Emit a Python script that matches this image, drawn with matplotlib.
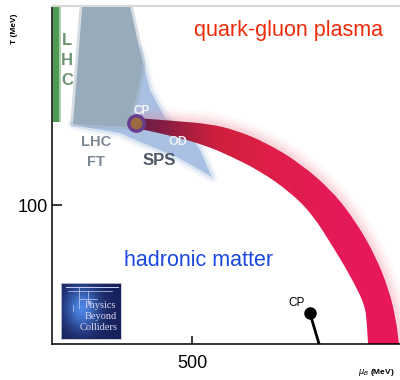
import numpy as np
import matplotlib
matplotlib.use("Agg")
import matplotlib.pyplot as plt
from matplotlib.path import Path
from matplotlib.patches import PathPatch, Polygon, Rectangle, Circle
from matplotlib.colors import LinearSegmentedColormap

plt.rcParams['font.family'] = ['Liberation Sans', 'DejaVu Sans']

# ---------------- data (mu_B in MeV, T in MeV) ----------------
band_outer_mu = [300, 446, 564, 654, 761, 886, 1004, 1086, 1154, 1204, 1229, 1239]
band_outer_T = [162.6, 160.4, 158.3, 154.0, 145.3, 130.2, 109.4, 87.8, 64.0, 38.8, 17.3, 0]
band_inner_mu = [300, 446, 554, 636, 743, 850, 929, 1004, 1064, 1118, 1125, 1129]
band_inner_T = [155.4, 148.9, 142.4, 135.3, 124.5, 109.4, 93.5, 69.8, 49.6, 28.1, 13.7, 0]

crossover_mu = [314, 350, 404, 493, 529, 571, 529, 446, 325, 243, 136, 75, 271, 304]
crossover_T = [211.5, 182.7, 162.6, 150.4, 139.6, 120.1, 125.2, 134.5, 144.6, 151.8, 155.4, 158.3, 156.1, 179.1]

lhcft_mu = [111, 271, 325, 304, 271, 75, 82]
lhcft_T = [250, 250, 200.7, 179.1, 156.1, 158.3, 175.5]

lhc_mu = [4, 32]
lhc_T = [159.7, 250]

cp_mu, cp_T = 300, 159
cp2_mu, cp2_T = 921, 22.3
cp2_line_mu = [921, 954]
cp2_line_T = [22.3, 0]

xticks = [500]
yticks = [100]
xlim = (0, 1243)
ylim = (0, 243.2)

# ---------------- figure ----------------
fig = plt.figure(figsize=(4, 3.8), dpi=100)
ax = fig.add_axes([52/400, 36/380, 348/400, 338/380])


def smooth_open(xs, ys):
    pts = list(zip(xs, ys))
    verts = [pts[0]]
    codes = [Path.MOVETO]
    for i in range(1, len(pts) - 1):
        mid = ((pts[i][0] + pts[i+1][0]) / 2, (pts[i][1] + pts[i+1][1]) / 2)
        verts += [pts[i], mid]
        codes += [Path.CURVE3, Path.CURVE3]
    verts.append(pts[-1])
    codes.append(Path.LINETO)
    return verts, codes


# LHC strip
ax.add_patch(Rectangle((lhc_mu[0], lhc_T[0]), lhc_mu[1]-lhc_mu[0], lhc_T[1]-lhc_T[0],
                       facecolor='#a9d0ab', edgecolor='none', zorder=1))
ax.add_patch(Rectangle((lhc_mu[0], lhc_T[0]), (lhc_mu[1]-lhc_mu[0])*0.75, lhc_T[1]-lhc_T[0],
                       facecolor='#4f9a53', edgecolor='none', zorder=1))

# crossover (light blue) region
for lw, a in [(8, 0.15), (4, 0.3)]:
    ax.add_patch(Polygon(list(zip(crossover_mu, crossover_T)), closed=True, facecolor='none',
                         edgecolor='#a9c0e2', lw=lw, alpha=a, joinstyle='round', zorder=1))
ax.add_patch(Polygon(list(zip(crossover_mu, crossover_T)), closed=True, facecolor='#a9c0e2',
                     edgecolor='none', zorder=1.2))

# LHC FT (gray) region
ax.add_patch(Polygon(list(zip(lhcft_mu, lhcft_T)), closed=True, facecolor='none',
                     edgecolor='#97abbb', lw=4, alpha=0.4, joinstyle='round', zorder=1.5))
ax.add_patch(Polygon(list(zip(lhcft_mu, lhcft_T)), closed=True, facecolor='#97abbb',
                     edgecolor='none', zorder=1.6))

# glow around the transition band
ov, oc = smooth_open(band_outer_mu, band_outer_T)
for lw, a in [(18, 0.05), (13, 0.07), (9, 0.09), (5, 0.12)]:
    ax.add_patch(PathPatch(Path(ov, oc), facecolor='none', edgecolor='#f07a95', lw=lw,
                           alpha=a, capstyle='butt', zorder=2))

# transition band
iv, ic = smooth_open(band_inner_mu[::-1], band_inner_T[::-1])
verts = ov + iv + [ov[0]]
codes = oc + [Path.LINETO] + ic[1:] + [Path.CLOSEPOLY]
band = PathPatch(Path(verts, codes), facecolor='none', edgecolor='none', transform=ax.transData)
ax.add_patch(band)
cmap = LinearSegmentedColormap.from_list('band', [
    (0.0, '#5e2552'), (0.1, '#7c1d45'), (0.2, '#a51e3e'), (0.32, '#cf1f3d'),
    (0.5, '#de1f48'), (0.8, '#e5195a'), (1.0, '#e8185a')])
grad = np.linspace(0, 1, 256)[None, :]
im = ax.imshow(grad, extent=[280, 1250, 0, 250], aspect='auto', cmap=cmap,
               origin='lower', zorder=3, interpolation='bilinear')
im.set_clip_path(band)

# critical point (crossover end)
ax.add_patch(Circle((cp_mu, cp_T), 1, visible=False))
ax.plot([cp_mu], [cp_T], 'o', ms=11, mfc='#9a6a40', mec='#6a3c8c', mew=2.5, zorder=5)

# second CP with line
ax.plot(cp2_line_mu, cp2_line_T, color='black', lw=2, zorder=5, solid_capstyle='butt')
ax.plot([cp2_mu], [cp2_T], 'o', ms=8, color='black', zorder=6)

# texts
ax.text(843, 225.9, 'quark-gluon plasma', color='#ee2a0a', fontsize=15.5, ha='center', va='center', zorder=7)
ax.text(525, 60.4, 'hadronic matter', color='#1a48e0', fontsize=15.5, ha='center', va='center', zorder=7)
for letter, T in zip(['L', 'H', 'C'], [218.7, 204.3, 189.9]):
    ax.text(53.6, T, letter, color='#6e9472', fontsize=12, fontweight='bold', ha='center', va='center', zorder=7)
ax.text(157, 145.3, 'LHC', color='#7d8794', fontsize=10.5, fontweight='bold', ha='center', va='center', zorder=7)
ax.text(157, 130.9, 'FT', color='#7d8794', fontsize=10.5, fontweight='bold', ha='center', va='center', zorder=7)
ax.text(382, 131.7, 'SPS', color='#4f5868', fontsize=12, fontweight='bold', ha='center', va='center', zorder=7)
ax.text(450, 145, 'OD', color='#eef2f8', fontsize=9, fontweight='bold', ha='center', va='center', zorder=7)
ax.text(321, 167.6, 'CP', color='#f4f6fa', fontsize=8.5, fontweight='bold', ha='center', va='center', zorder=7)
ax.text(875, 29.5, 'CP', color='black', fontsize=8.5, ha='center', va='center', zorder=7)

# axes styling
ax.set_xlim(*xlim)
ax.set_ylim(*ylim)
ax.set_xticks(xticks)
ax.set_yticks(yticks)
ax.tick_params(axis='both', direction='in', labelsize=13, width=1.1, color='black')
ax.tick_params(axis='y', length=7.2, pad=3)
ax.tick_params(axis='x', length=5.8, pad=8)
ax.spines['right'].set_visible(False)
ax.spines['top'].set_color('#d8d8d8')
ax.spines['top'].set_linewidth(1.5)
ax.spines['left'].set_linewidth(1.1)
ax.spines['bottom'].set_linewidth(1.1)
for s in ax.spines.values():
    s.set_zorder(10)

fig.text(15/400, 1 - 29/380, 'T (MeV)', rotation=90, fontsize=6, fontweight='bold',
         ha='center', va='center')
fig.text(376/400, 1 - 373/380, r'$\mu_B$ (MeV)', fontsize=6, fontweight='bold',
         ha='center', va='center')

# logo
lax = fig.add_axes([61/400, 41/380, 60/400, 56/380])
yy, xx = np.mgrid[0:1:60j, 0:1:60j]
glow = np.exp(-((xx - 0.35)**2 / 0.08 + (yy - 0.55)**2 / 0.15))
base = np.array([0.09, 0.13, 0.36])
bright = np.array([0.30, 0.52, 0.90])
img = base[None, None, :] * (1 - glow[..., None]) + bright[None, None, :] * glow[..., None]
lax.imshow(img, extent=[0, 1, 0, 1], aspect='auto', origin='lower')
lc = '#c9d0f4'
lax.plot([0.08, 0.95], [0.93, 0.93], color=lc, lw=0.7)
lax.plot([0.12, 0.85], [0.85, 0.85], color=lc, lw=0.5)
lax.plot([0.3, 0.3], [0.93, 0.55], color=lc, lw=0.5)
lax.plot([0.3, 0.6], [0.72, 0.72], color=lc, lw=0.5)
lax.plot([0.2, 0.2], [0.6, 0.5], color=lc, lw=0.5)
lax.plot([0.45, 0.45], [0.85, 0.65], color=lc, lw=0.5)
lax.text(0.66, 0.6, 'Physics', color='#dcd8f2', fontsize=7.5, family='Liberation Serif', ha='center', va='center')
lax.text(0.66, 0.4, 'Beyond', color='#dcd8f2', fontsize=7.5, family='Liberation Serif', ha='center', va='center')
lax.text(0.62, 0.2, 'Colliders', color='#dcd8f2', fontsize=7.5, family='Liberation Serif', ha='center', va='center')
lax.set_xlim(0, 1)
lax.set_ylim(0, 1)
lax.set_xticks([])
lax.set_yticks([])
for s in lax.spines.values():
    s.set_color('#c8c8d0')
    s.set_linewidth(0.6)

fig.savefig('out.png', dpi=100)
